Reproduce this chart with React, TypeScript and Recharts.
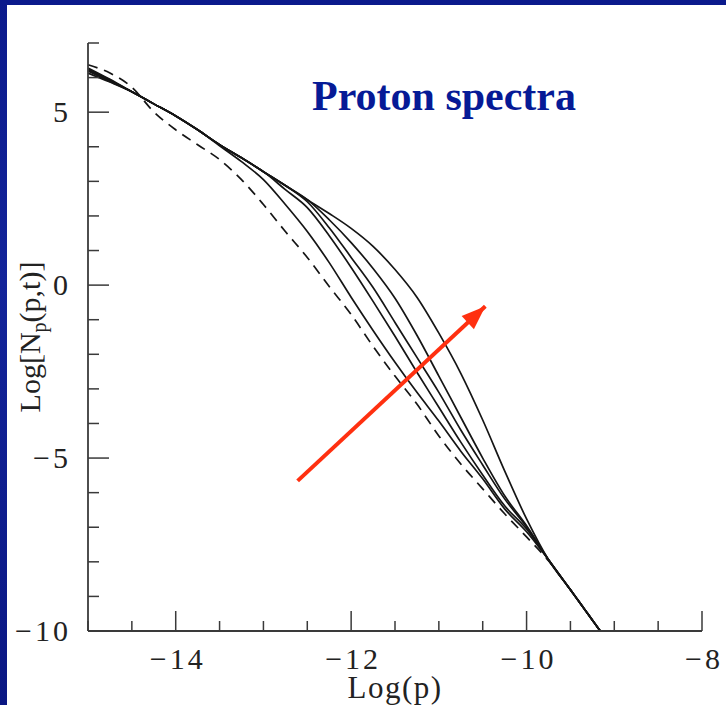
import React from 'react'
import { LineChart, Line, XAxis, YAxis } from 'recharts'

// log(p) grid
const LOG_P = [
  -15, -14.75, -14.5, -14.25, -14, -13.75, -13.5, -13.25, -13, -12.75, -12.5, -12.25,
  -12, -11.75, -11.5, -11.25, -11, -10.75, -10.5, -10.25, -10, -9.75, -9.5, -9.16,
]

// initial spectrum (dashed)
const N_T0 = [
  6.37, 6.13, 5.72, 5.01, 4.49, 4.06, 3.63, 3.05, 2.33, 1.55, 0.8, -0.04,
  -0.85, -1.77, -2.63, -3.44, -4.36, -5.17, -5.89, -6.61, -7.28, -7.97, -8.81, -10,
]
// later times (solid), in arrow order
const N_T1 = [
  6.28, 5.95, 5.59, 5.24, 4.89, 4.49, 4.03, 3.57, 3.05, 2.33, 1.55, 0.65,
  -0.35, -1.31, -2.23, -3.1, -3.93, -4.8, -5.6, -6.47, -7.13, -7.94, -8.81, -10,
]
const N_T2 = [
  6.25, 5.93, 5.59, 5.24, 4.89, 4.49, 4.06, 3.68, 3.28, 2.76, 2.24, 1.43,
  0.51, -0.47, -1.48, -2.52, -3.53, -4.54, -5.49, -6.38, -7.05, -7.94, -8.81, -10,
]
const N_T3 = [
  6.22, 5.91, 5.59, 5.24, 4.89, 4.49, 4.06, 3.68, 3.28, 2.88, 2.41, 1.66,
  0.8, -0.07, -1.08, -2.09, -3.1, -4.19, -5.2, -6.18, -6.99, -7.94, -8.81, -10,
]
const N_T4 = [
  6.19, 5.89, 5.59, 5.24, 4.89, 4.49, 4.06, 3.68, 3.28, 2.88, 2.47, 1.89,
  1.23, 0.48, -0.38, -1.45, -2.63, -3.82, -5.0, -6.09, -6.96, -7.94, -8.81, -10,
]
const N_T5 = [
  6.13, 5.87, 5.59, 5.24, 4.89, 4.49, 4.06, 3.68, 3.28, 2.88, 2.47, 2.07,
  1.64, 1.12, 0.45, -0.35, -1.39, -2.55, -3.9, -5.37, -6.76, -7.94, -8.81, -10,
]

// red arrow (time direction), tail then tip
const ARROW_X = [-12.61, -10.47]
const ARROW_Y = [-5.66, -0.61]

const X_TICKS = [-15, -14.5, -14, -13.5, -13, -12.5, -12, -11.5, -11, -10.5, -10, -9.5, -9, -8.5, -8]
const Y_TICKS = [-10, -9, -8, -7, -6, -5, -4, -3, -2, -1, 0, 1, 2, 3, 4, 5, 6, 7]
const X_LABELED = [-14, -12, -10, -8]
const Y_LABELED = [-10, -5, 0, 5]

const rows = LOG_P.map((x, i) => ({
  x,
  t0: N_T0[i],
  t1: N_T1[i],
  t2: N_T2[i],
  t3: N_T3[i],
  t4: N_T4[i],
  t5: N_T5[i],
}))
const arrowRows = ARROW_X.map((x, i) => ({ x, y: ARROW_Y[i] }))

const FRAME = '#3a3a3a'
const INK = '#151515'
const RED = '#ff3010'
const SERIF = '"Liberation Serif", "Times New Roman", serif'

const fmt = (v: number) => (v < 0 ? '\u2212' + Math.abs(v) : String(v))

function XTick({ x, y, payload, side }: any) {
  const v = payload.value
  const len = v % 2 === 0 ? 20 : 10
  const dir = side === 'top' ? 1 : -1
  return (
    <g>
      <line x1={x} y1={y} x2={x} y2={y + dir * len} stroke={FRAME} strokeWidth={1.5} />
      {side === 'bottom' && X_LABELED.includes(v) && (
        <text x={x + 2} y={y + 38} textAnchor='middle' fontFamily={SERIF} fontSize={30} letterSpacing={3} fill='#222'>
          {fmt(v)}
        </text>
      )}
    </g>
  )
}

function YTick({ x, y, payload, side }: any) {
  const v = payload.value
  const len = v % 5 === 0 ? 21 : 11
  const dir = side === 'left' ? 1 : -1
  return (
    <g>
      <line x1={x} y1={y} x2={x + dir * len} y2={y} stroke={FRAME} strokeWidth={1.5} />
      {side === 'left' && Y_LABELED.includes(v) && (
        <text x={x - 17} y={y + 10} textAnchor='end' fontFamily={SERIF} fontSize={30} letterSpacing={3} fill='#222'>
          {fmt(v)}
        </text>
      )}
    </g>
  )
}

function ArrowDot(props: any) {
  const { cx, cy, index, points } = props
  if (index !== 1 || cx == null) return <g key={`a-${index}`} />
  let ang = -43
  if (points && points.length > 1) {
    ang = (Math.atan2(points[1].y - points[0].y, points[1].x - points[0].x) * 180) / Math.PI
  }
  return (
    <polygon
      key='arrowhead'
      points='0,0 -24,-9 -24,9'
      fill={RED}
      transform={`translate(${cx},${cy}) rotate(${ang})`}
    />
  )
}

export default function App() {
  const curve = { type: 'monotone' as const, dot: false, isAnimationActive: false, stroke: INK, strokeWidth: 1.7 }
  return (
    <div
      style={{
        position: 'absolute',
        left: 0,
        top: 0,
        width: 726,
        height: 705,
        overflow: 'hidden',
        background: 'linear-gradient(180deg, #0b1a8c 0%, #13249a 40%, #0a1783 100%)',
      }}
    >
      <div style={{ position: 'absolute', left: 7, top: 5, right: 0, bottom: 0, background: '#fff' }} />
      <div style={{ position: 'absolute', left: 0, top: 0 }}>
        <LineChart width={726} height={705} data={rows} margin={{ top: 43, right: 24, left: 28, bottom: 34 }}>
          <XAxis
            dataKey='x'
            type='number'
            domain={[-15, -8]}
            ticks={X_TICKS}
            interval={0}
            height={40}
            tickSize={0}
            tickMargin={0}
            tickLine={false}
            axisLine={{ stroke: FRAME, strokeWidth: 1.8 }}
            tick={(p: any) => <XTick {...p} side='bottom' />}
          />
          <XAxis
            xAxisId='top'
            orientation='top'
            dataKey='x'
            type='number'
            domain={[-15, -8]}
            ticks={X_TICKS}
            interval={0}
            height={0}
            tickSize={0}
            tickMargin={0}
            tickLine={false}
            axisLine={{ stroke: FRAME, strokeWidth: 1.8 }}
            tick={(p: any) => <XTick {...p} side='top' />}
          />
          <YAxis
            type='number'
            domain={[-10, 7]}
            ticks={Y_TICKS}
            interval={0}
            width={60}
            tickSize={0}
            tickMargin={0}
            tickLine={false}
            axisLine={{ stroke: FRAME, strokeWidth: 1.8 }}
            tick={(p: any) => <YTick {...p} side='left' />}
          />
          <YAxis
            yAxisId='right'
            orientation='right'
            type='number'
            domain={[-10, 7]}
            ticks={Y_TICKS}
            interval={0}
            width={0}
            tickSize={0}
            tickMargin={0}
            tickLine={false}
            axisLine={{ stroke: FRAME, strokeWidth: 1.8 }}
            tick={(p: any) => <YTick {...p} side='right' />}
          />
          <Line {...curve} dataKey='t0' strokeDasharray='10 7' />
          <Line {...curve} dataKey='t1' />
          <Line {...curve} dataKey='t2' />
          <Line {...curve} dataKey='t3' />
          <Line {...curve} dataKey='t4' />
          <Line {...curve} dataKey='t5' />
          <Line
            data={arrowRows}
            dataKey='y'
            type='linear'
            stroke={RED}
            strokeWidth={4}
            isAnimationActive={false}
            dot={(p: any) => <ArrowDot {...p} />}
            activeDot={false}
          />
        </LineChart>
      </div>
      <div
        style={{
          position: 'absolute',
          left: 244,
          top: 75,
          width: 400,
          textAlign: 'center',
          fontFamily: SERIF,
          fontWeight: 'bold',
          fontSize: 42,
          lineHeight: '42px',
          color: '#061a96',
          whiteSpace: 'nowrap',
        }}
      >
        Proton spectra
      </div>
      <div
        style={{
          position: 'absolute',
          left: 245,
          top: 672,
          width: 300,
          textAlign: 'center',
          fontFamily: SERIF,
          fontSize: 31,
          lineHeight: '31px',
          letterSpacing: 1.5,
          color: '#222',
        }}
      >
        Log(p)
      </div>
      <div
        style={{
          position: 'absolute',
          left: 30,
          top: 337,
          transform: 'translate(-50%, -50%) rotate(-90deg)',
          fontFamily: SERIF,
          fontSize: 30,
          lineHeight: '30px',
          color: '#222',
          whiteSpace: 'nowrap',
        }}
      >
        Log[N<sub style={{ fontSize: 20, verticalAlign: '-6px', lineHeight: 0 }}>p</sub>(p,t)]
      </div>
    </div>
  )
}
